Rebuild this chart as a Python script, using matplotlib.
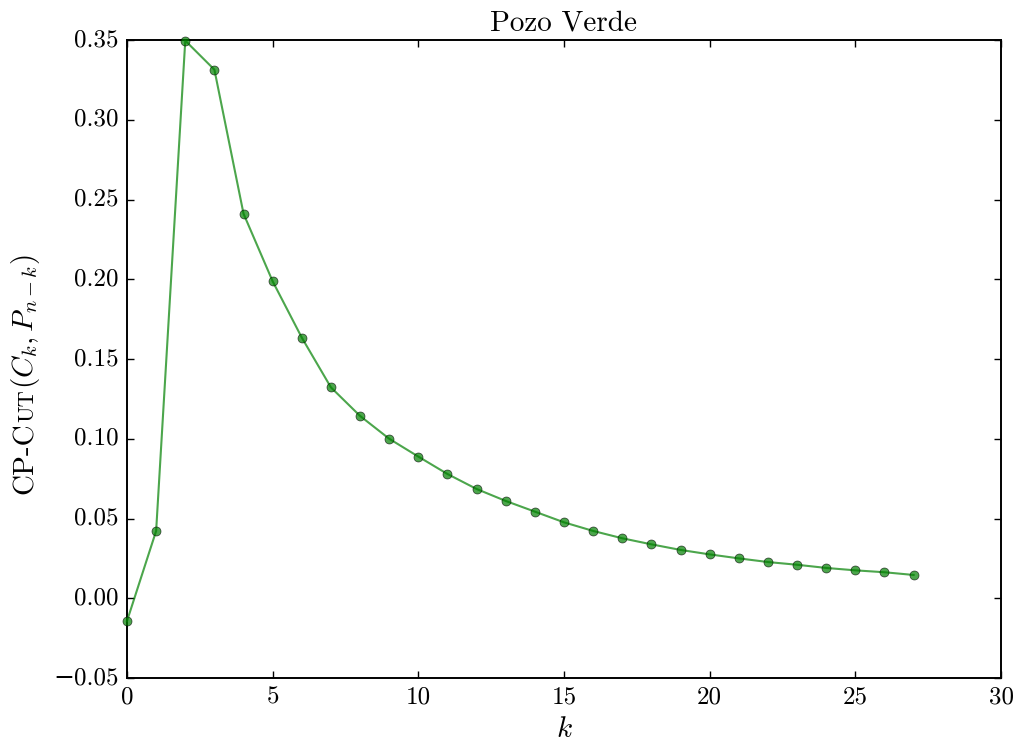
import matplotlib
matplotlib.use("Agg")
import matplotlib.pyplot as plt

plt.style.use("classic")
plt.rcParams["font.family"] = "serif"
plt.rcParams["font.serif"] = ["cmr10"]
plt.rcParams["mathtext.fontset"] = "cm"
plt.rcParams["axes.formatter.use_mathtext"] = True
plt.rcParams["axes.unicode_minus"] = True
plt.rcParams["axes.linewidth"] = 1.4

k_values = list(range(28))
cut_values = [-0.0143, 0.0422, 0.3496, 0.3314, 0.2411, 0.1987, 0.1634, 0.1322,
              0.1143, 0.1000, 0.0888, 0.0779, 0.0685, 0.0610, 0.0543, 0.0476,
              0.0422, 0.0376, 0.0338, 0.0303, 0.0275, 0.0250, 0.0227, 0.0210,
              0.0190, 0.0175, 0.0163, 0.0146]
x_ticks = [0, 5, 10, 15, 20, 25, 30]
y_ticks = [-0.05, 0.0, 0.05, 0.10, 0.15, 0.20, 0.25, 0.30, 0.35]
title = "Pozo Verde"

fig = plt.figure(figsize=(10.19, 7.47), dpi=100, facecolor="white")
ax = fig.add_axes([127 / 1019, 1 - 678 / 747, (1001 - 127) / 1019, (678 - 40) / 747])

ax.plot(k_values, cut_values, color="green", alpha=0.7, lw=1.5, marker="o",
        markersize=6.5, markeredgecolor="black", markerfacecolor="green",
        clip_on=False, zorder=3)

ax.set_xlim(0, 30)
ax.set_ylim(-0.05, 0.35)
ax.set_xticks(x_ticks)
ax.set_yticks(y_ticks)
ax.set_xticklabels([str(t) for t in x_ticks])
ax.set_yticklabels([("\N{MINUS SIGN}" if t < 0 else "") + f"{abs(t):.2f}" for t in y_ticks])
ax.tick_params(labelsize=18, direction="in", top=True, right=True, length=5,
               width=1, pad=6)
for lab in ax.get_xticklabels() + ax.get_yticklabels():
    lab.set_family(["cmr10", "DejaVu Serif"])
ax.set_xlabel(r"$k$", fontsize=21, labelpad=6)
ax.set_title(title, fontsize=21, y=1.0, pad=7)

# y label composed with small caps for "Cut"
fig.canvas.draw()
renderer = fig.canvas.get_renderer()
parts = [("CP-C", 21), ("UT", 16), (r"$(C_k, P_{n-k})$", 21)]
texts = [fig.text(0, 0, s, rotation=90, fontsize=fs, ha="left", va="baseline",
                  rotation_mode="anchor", transform=None) for s, fs in parts]
fig.canvas.draw()
heights = [t.get_window_extent(renderer).height for t in texts]
total = sum(heights)
center_y = (747 - 374) / 747 * fig.bbox.height
base_x = 33 / 1019 * fig.bbox.width
cur = center_y - total / 2
for t, h in zip(texts, heights):
    t.set_position((base_x, cur))
    cur += h

fig.savefig("out.png", dpi=100, facecolor="white")
